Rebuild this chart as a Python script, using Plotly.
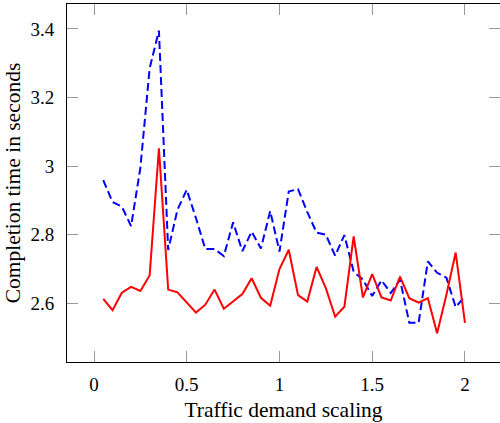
import plotly.graph_objects as go

scaling = [round(0.05 * k, 2) for k in range(1, 41)]

blue_dashed = [2.959, 2.895, 2.882, 2.825, 2.995, 3.285, 3.395, 2.755, 2.873, 2.931,
               2.848, 2.758, 2.758, 2.738, 2.836, 2.752, 2.809, 2.760, 2.869, 2.751,
               2.926, 2.933, 2.866, 2.806, 2.800, 2.739, 2.799, 2.692, 2.669, 2.621,
               2.667, 2.630, 2.669, 2.543, 2.543, 2.722, 2.689, 2.675, 2.589, 2.620]

red_solid = [2.613, 2.580, 2.631, 2.648, 2.636, 2.681, 3.052, 2.640, 2.632, 2.602,
             2.573, 2.596, 2.640, 2.584, 2.605, 2.627, 2.673, 2.616, 2.593, 2.700,
             2.756, 2.624, 2.605, 2.706, 2.644, 2.561, 2.590, 2.795, 2.617, 2.685,
             2.617, 2.608, 2.678, 2.615, 2.602, 2.615, 2.513, 2.625, 2.748, 2.543]

x_ticks = [0, 0.5, 1, 1.5, 2]
y_ticks = [2.6, 2.8, 3.0, 3.2, 3.4]

x_range = [-0.1456, 2.189]
y_range = [2.4289, 3.4726]

FONT = "Liberation Serif"

fig = go.Figure()
fig.add_trace(go.Scatter(x=scaling, y=blue_dashed, mode="lines",
                         line=dict(color="#0000ff", width=2, dash="8px,4px"),
                         showlegend=False))
fig.add_trace(go.Scatter(x=scaling, y=red_solid, mode="lines",
                         line=dict(color="#ff0000", width=2),
                         showlegend=False))
# invisible trace to activate right-side tick axis
fig.add_trace(go.Scatter(x=[None], y=[None], yaxis="y2", showlegend=False, hoverinfo="skip"))

fig.update_layout(
    width=500, height=423,
    margin=dict(l=67, r=0, t=4, b=61),
    paper_bgcolor="white", plot_bgcolor="white",
    font=dict(family=FONT, size=19, color="black"),
    xaxis=dict(range=x_range, tickvals=x_ticks, ticks="inside", ticklen=11,
               tickcolor="#999", tickwidth=1, showline=True, linecolor="black",
               linewidth=1, mirror="ticks", showgrid=False, zeroline=False,
               ticklabelstandoff=5,
               title=dict(text="Traffic demand scaling", standoff=8,
                          font=dict(family=FONT, size=21.5))),
    yaxis=dict(range=y_range, tickvals=y_ticks, ticks="inside", ticklen=11,
               tickcolor="#999", tickwidth=1, showline=True, linecolor="black",
               linewidth=1, mirror=False, showgrid=False, zeroline=False,
               ticklabelstandoff=8,
               title=dict(text="Completion time in seconds", standoff=3,
                          font=dict(family=FONT, size=21.5))),
    yaxis2=dict(range=y_range, tickvals=y_ticks, ticks="inside", ticklen=11,
                tickcolor="#999", tickwidth=1, overlaying="y", side="right",
                showticklabels=False, showline=False, showgrid=False, zeroline=False),
)

fig.write_html("out.html")
